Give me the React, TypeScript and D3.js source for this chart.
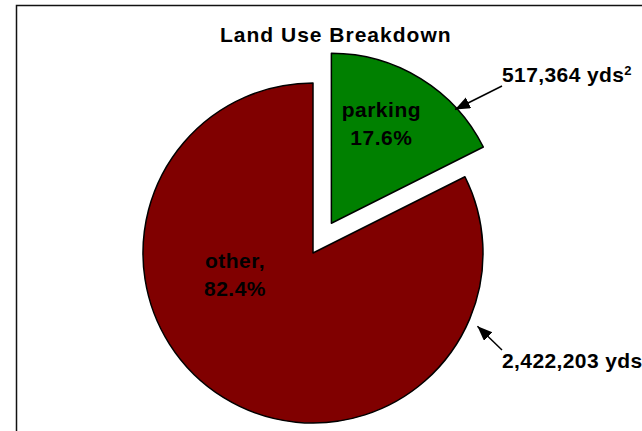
import React from "react";
import * as d3 from "d3";

const title = "Land Use Breakdown";
const categories = ["parking", "other"];
const values = [517364, 2422203];
const labelSeparators = ["", ","];
const colors = ["#008000", "#800000"];
const unit = "yds";

// layout
const W = 642;
const H = 431;
const cx = 313;
const cy = 253;
const R = 170;
const explode = [35, 0];
const labelOffsets = [
  { dx: 50, dy: -106 },
  { dx: -78, dy: 15 },
];
const arrowTips = [
  { angleDeg: 47.4, r: 168 },
  { angleDeg: 114, r: 180 },
];
const callouts = [
  { x: 502, y: 82, tailX: 502, tailY: 86 },
  { x: 502, y: 368, tailX: 502, tailY: 350 },
];
const FONT = "'Liberation Sans', Arial, Helvetica, sans-serif";

export default function App() {
  const pie = d3
    .pie<number>()
    .sort(null)
    .value((d) => d)
    .startAngle(0)
    .endAngle(2 * Math.PI);
  const arcs = pie(values);
  const arc = d3.arc<d3.PieArcDatum<number>>().innerRadius(0).outerRadius(R);
  const total = d3.sum(values);
  const pct = d3.format(".1%");
  const num = d3.format(",");

  const slices = arcs.map((a, i) => {
    const mid = (a.startAngle + a.endAngle) / 2;
    const ox = cx + explode[i] * Math.sin(mid);
    const oy = cy - explode[i] * Math.cos(mid);
    return { a, i, ox, oy };
  });

  return (
    <svg
      width={W}
      height={H}
      style={{ position: "absolute", left: 0, top: 0, background: "#fff" }}
      fontFamily={FONT}
    >
      <defs>
        <marker
          id="arrowhead"
          markerUnits="userSpaceOnUse"
          markerWidth={16}
          markerHeight={14}
          refX={15}
          refY={6}
          orient="auto"
        >
          <path d="M0,0 L15,6 L0,12 Z" fill="#000" />
        </marker>
      </defs>
      <rect x={16.5} y={5.5} width={700} height={500} fill="#fff" stroke="#111" strokeWidth={1.5} />
      <text x={220} y={42} fontSize={21} fontWeight="bold" letterSpacing={1} fill="#000">
        {title}
      </text>
      {slices.map(({ a, i, ox, oy }) => (
        <g key={categories[i]} transform={`translate(${ox},${oy})`}>
          <path d={arc(a) || ""} fill={colors[i]} stroke="#000" strokeWidth={1.5} strokeLinejoin="round" />
          <text
            x={labelOffsets[i].dx}
            y={labelOffsets[i].dy}
            textAnchor="middle"
            fontSize={21}
            fontWeight="bold"
            letterSpacing={0.5}
            fill="#000"
          >
            <tspan x={labelOffsets[i].dx}>{categories[i] + labelSeparators[i]}</tspan>
            <tspan x={labelOffsets[i].dx} dy={28}>
              {pct(values[i] / total)}
            </tspan>
          </text>
        </g>
      ))}
      {slices.map(({ i, ox, oy }) => {
        const ang = (arrowTips[i].angleDeg * Math.PI) / 180;
        const tx = ox + arrowTips[i].r * Math.sin(ang);
        const ty = oy - arrowTips[i].r * Math.cos(ang);
        const c = callouts[i];
        return (
          <g key={"callout-" + categories[i]}>
            <line
              x1={c.tailX}
              y1={c.tailY}
              x2={tx}
              y2={ty}
              stroke="#000"
              strokeWidth={1.5}
              markerEnd="url(#arrowhead)"
            />
            <text x={c.x} y={c.y} fontSize={21} fontWeight="bold" letterSpacing={0.4} fill="#000">
              {num(values[i]) + " " + unit}
              <tspan fontSize={13} dy={-7}>
                2
              </tspan>
            </text>
          </g>
        );
      })}
    </svg>
  );
}
